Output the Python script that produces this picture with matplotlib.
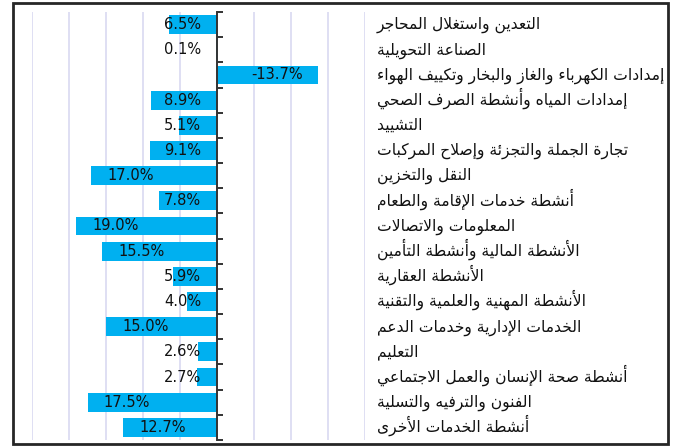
import numpy as np
import matplotlib
matplotlib.use('Agg')
import matplotlib.pyplot as plt
from matplotlib.patches import Rectangle
import matplotlib.transforms as mtransforms

# %% Dati (dall'alto verso il basso)
settori = [
    'التعدين واستغلال المحاجر',
    'الصناعة التحويلية',
    'إمدادات الكهرباء والغاز والبخار وتكييف الهواء',
    'إمدادات المياه وأنشطة الصرف الصحي',
    'التشييد',
    'تجارة الجملة والتجزئة وإصلاح المركبات',
    'النقل والتخزين',
    'أنشطة خدمات الإقامة والطعام',
    'المعلومات والاتصالات',
    'الأنشطة المالية وأنشطة التأمين',
    'الأنشطة العقارية',
    'الأنشطة المهنية والعلمية والتقنية',
    'الخدمات الإدارية وخدمات الدعم',
    'التعليم',
    'أنشطة صحة الإنسان والعمل الاجتماعي',
    'الفنون والترفيه والتسلية',
    'أنشطة الخدمات الأخرى',
]
valori = [6.5, 0.1, -13.7, 8.9, 5.1, 9.1, 17.0, 7.8, 19.0, 15.5, 5.9, 4.0, 15.0, 2.6, 2.7, 17.5, 12.7]
etichette = [f'{v:.1f}%' for v in valori]


# %% Forme contestuali arabe (matplotlib non fa lo shaping)
_conteggi = [1, 2, 2, 2, 2, 4, 2, 4, 2, 4, 4, 4, 4, 4, 2, 2, 2, 2, 4, 4, 4, 4, 4, 4, 4, 4,
             4, 4, 4, 4, 4, 4, 4, 2, 2, 4]
_lettere = [chr(c) for c in range(0x0621, 0x063B)] + [chr(c) for c in range(0x0641, 0x064B)]
FORME = {}
_base = 0xFE80
for lett, n in zip(_lettere, _conteggi):
    FORME[lett] = (_base, n)
    _base += n
LAM_ALEF = {'\u0622': 0xFEF5, '\u0623': 0xFEF7, '\u0625': 0xFEF9, '\u0627': 0xFEFB}


def f_arabo(testo):
    # unisco lam + alef in legatura
    car = []
    i = 0
    while i < len(testo):
        if testo[i] == '\u0644' and i + 1 < len(testo) and testo[i + 1] in LAM_ALEF:
            car.append(('LA', LAM_ALEF[testo[i + 1]], 2))
            i += 2
        else:
            c = testo[i]
            if c in FORME:
                car.append((c, FORME[c][0], FORME[c][1]))
            else:
                car.append((c, None, 0))
            i += 1

    def unisce(k):
        return 0 <= k < len(car) and car[k][2] > 1

    out = []
    for k, (c, base, n) in enumerate(car):
        if base is None:
            out.append(c)
            continue
        prec = unisce(k - 1) and car[k - 1][2] == 4
        succ = n == 4 and unisce(k + 1)
        if n == 1:
            off = 0
        elif prec and succ:
            off = 3
        elif prec:
            off = 1
        elif succ:
            off = 2
        else:
            off = 0
        out.append(chr(base + off))
    return ''.join(out)[::-1]


# %% Plot
fig = plt.figure(figsize=(6.74, 4.47), dpi=100)
ax = fig.add_axes([32 / 674, 1 - 440 / 447, (365 - 32) / 674, (440 - 12) / 447])

pos = np.arange(len(valori))
ax.barh(pos, valori, height=0.75, color='#00B0F0', zorder=2)

ax.set_xlim(25, -20)
ax.set_ylim(len(valori) - 0.5, -0.5)

ax.set_xticks(np.arange(-20, 26, 5))
ax.set_xticklabels([])
ax.tick_params(axis='x', length=0)
ax.grid(axis='x', color='#DCDCF2', lw=1.3, zorder=0)
ax.set_axisbelow(True)

for lato in ['top', 'right', 'bottom']:
    ax.spines[lato].set_visible(False)
ax.spines['left'].set_position(('data', 0))
ax.spines['left'].set_color('#333333')
ax.spines['left'].set_linewidth(1.4)
ax.spines['left'].set_zorder(3)
ax.set_yticks(np.arange(-0.5, len(valori), 1))
ax.set_yticklabels([])
ax.tick_params(axis='y', direction='in', length=4, width=1.4, color='#333333')

# etichette valori
scarto = 2.16
for p, v, lab in zip(pos, valori, etichette):
    if v < 0:
        ax.text(v + scarto, p, lab, ha='right', va='center', fontsize=10.5, color='#111111', zorder=4)
    elif v > 10:
        ax.text(v - scarto, p, lab, ha='left', va='center', fontsize=10.5, color='#111111', zorder=4)
    else:
        ax.text(scarto, p, lab, ha='right', va='center', fontsize=10.5, color='#111111', zorder=4)

# nomi dei settori a destra (baseline fissa, il bbox varia con i puntini)
trans = mtransforms.blended_transform_factory(ax.transAxes, ax.transData)
for p, nome in zip(pos, settori):
    ax.text((377 - 32) / 333, p + 0.18, f_arabo(nome), transform=trans, ha='left',
            va='baseline', fontsize=11.2, color='#111111', family=['DejaVu Sans'])

# cornice
fig.add_artist(Rectangle((13 / 674, 1 - 444 / 447), (668 - 13) / 674, (444 - 3) / 447,
                         transform=fig.transFigure, fill=False, lw=2, ec='#262626'))

plt.savefig('out.png', dpi=100)
